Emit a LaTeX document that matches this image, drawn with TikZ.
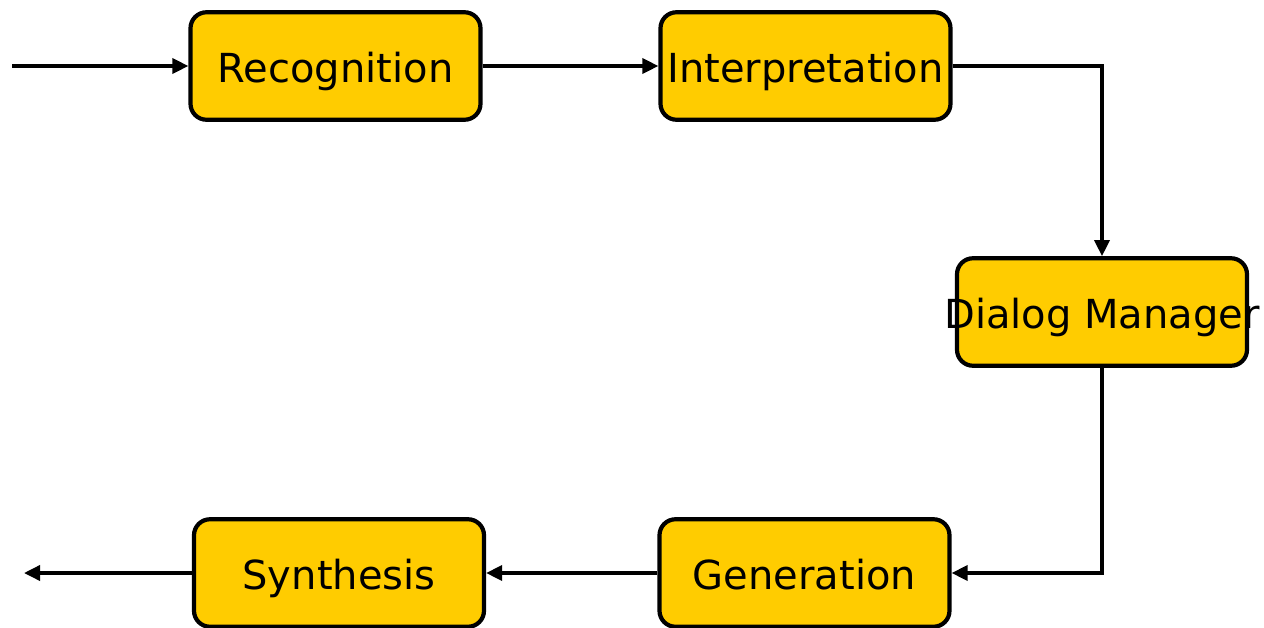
\documentclass[tikz,border=0pt]{standalone}
\usepackage{fontspec}
\setmainfont{DejaVu Sans}
\usetikzlibrary{arrows.meta}
\definecolor{boxfill}{RGB}{255,204,0}
\begin{document}
\begin{tikzpicture}[x=1pt,y=-1pt,
  stage/.style={draw=black, line width=4.2pt, fill=boxfill, rounded corners=16pt,
    minimum width=290pt, minimum height=107.5pt, inner sep=0pt,
    text height=33pt, text depth=0pt,
    font=\fontsize{40}{46}\selectfont},
  conn/.style={draw=black, line width=3.5pt, -{Triangle[length=16pt,width=15pt]}}]
\useasboundingbox (0,0) rectangle (1264,627);
\node[stage] (rec) at (335.5,66) {\makebox[0pt]{Recognition}};
\node[stage] (int) at (805.5,66) {\makebox[0pt]{Interpretation}};
\node[stage] (dm) at (1102,312) {\makebox[0pt]{Dialog Manager}};
\node[stage] (gen) at (804.5,573) {\makebox[0pt]{Generation}};
\node[stage] (syn) at (339,573) {\makebox[0pt]{Synthesis}};
\coordinate (in) at (12,66);
\coordinate (out) at (24,573);
\draw[conn] (in) -- (rec.west);
\draw[conn] (rec.east) -- (int.west);
\draw[conn] (int.east) -| (dm.north);
\draw[conn] (dm.south) |- (gen.east);
\draw[conn] (gen.west) -- (syn.east);
\draw[conn] (syn.west) -- (out);
\end{tikzpicture}
\end{document}
